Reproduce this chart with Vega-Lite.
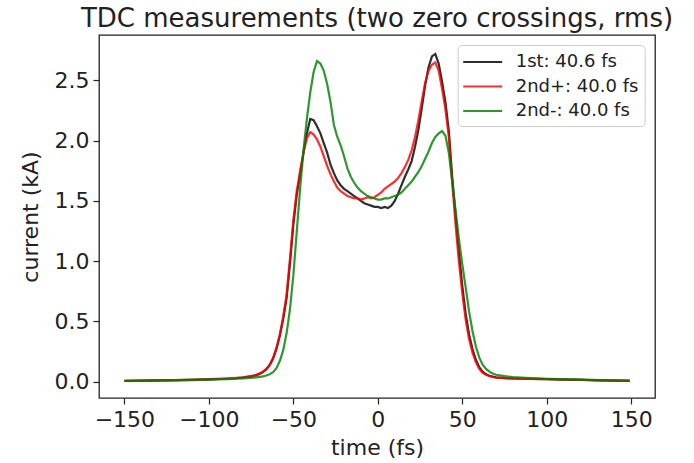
{
  "$schema": "https://vega.github.io/schema/vega-lite/v6.json",
  "autosize": "none",
  "width": 556,
  "height": 363,
  "padding": {"left": 99, "top": 35, "right": 39, "bottom": 65},
  "background": "white",
  "config": {
    "font": "DejaVu Sans",
    "view": {"stroke": "#222222", "strokeWidth": 1.3},
    "axis": {"grid": false, "domain": false, "tickColor": "#222222", "tickSize": 6, "tickWidth": 1.2, "labelColor": "#222222", "labelFont": "DejaVu Sans", "labelFontSize": 22, "titleFont": "DejaVu Sans", "titleFontSize": 22, "titleFontWeight": "normal", "titleColor": "#222222", "labelPadding": 4}
  },
  "title": {"text": "TDC measurements (two zero crossings, rms)", "font": "DejaVu Sans", "fontSize": 26, "fontWeight": "normal", "color": "#222222", "anchor": "middle", "frame": "group", "offset": 3},
  "data": {"values": [
    {"t": -150, "k": 0.005, "r": 0.005, "g": 0.004},
    {"t": -140, "k": 0.007, "r": 0.007, "g": 0.006},
    {"t": -130, "k": 0.009, "r": 0.009, "g": 0.008},
    {"t": -120, "k": 0.011, "r": 0.012, "g": 0.010},
    {"t": -110, "k": 0.014, "r": 0.015, "g": 0.012},
    {"t": -100, "k": 0.018, "r": 0.019, "g": 0.015},
    {"t": -90, "k": 0.023, "r": 0.024, "g": 0.019},
    {"t": -85, "k": 0.027, "r": 0.028, "g": 0.022},
    {"t": -80, "k": 0.033, "r": 0.034, "g": 0.026},
    {"t": -75, "k": 0.042, "r": 0.044, "g": 0.030},
    {"t": -72, "k": 0.052, "r": 0.055, "g": 0.034},
    {"t": -70, "k": 0.062, "r": 0.066, "g": 0.038},
    {"t": -68, "k": 0.078, "r": 0.082, "g": 0.043},
    {"t": -66, "k": 0.10, "r": 0.105, "g": 0.050},
    {"t": -64, "k": 0.135, "r": 0.14, "g": 0.060},
    {"t": -62, "k": 0.19, "r": 0.195, "g": 0.078},
    {"t": -60, "k": 0.27, "r": 0.28, "g": 0.11},
    {"t": -58, "k": 0.38, "r": 0.39, "g": 0.17},
    {"t": -56, "k": 0.52, "r": 0.54, "g": 0.26},
    {"t": -54, "k": 0.69, "r": 0.72, "g": 0.40},
    {"t": -52, "k": 0.98, "r": 1.02, "g": 0.60},
    {"t": -50, "k": 1.30, "r": 1.34, "g": 0.88},
    {"t": -48, "k": 1.55, "r": 1.58, "g": 1.24},
    {"t": -46, "k": 1.72, "r": 1.75, "g": 1.60},
    {"t": -44, "k": 1.90, "r": 1.90, "g": 1.92},
    {"t": -42, "k": 2.06, "r": 2.02, "g": 2.18},
    {"t": -40, "k": 2.18, "r": 2.07, "g": 2.40},
    {"t": -38, "k": 2.17, "r": 2.05, "g": 2.57},
    {"t": -36, "k": 2.12, "r": 2.01, "g": 2.66},
    {"t": -34, "k": 2.06, "r": 1.95, "g": 2.64},
    {"t": -32, "k": 1.98, "r": 1.87, "g": 2.58},
    {"t": -30, "k": 1.90, "r": 1.79, "g": 2.47},
    {"t": -28, "k": 1.80, "r": 1.72, "g": 2.32},
    {"t": -26, "k": 1.73, "r": 1.66, "g": 2.13},
    {"t": -24, "k": 1.67, "r": 1.61, "g": 2.03},
    {"t": -22, "k": 1.63, "r": 1.58, "g": 1.96},
    {"t": -20, "k": 1.60, "r": 1.56, "g": 1.87},
    {"t": -18, "k": 1.58, "r": 1.54, "g": 1.77},
    {"t": -16, "k": 1.56, "r": 1.53, "g": 1.70},
    {"t": -14, "k": 1.54, "r": 1.52, "g": 1.65},
    {"t": -12, "k": 1.52, "r": 1.52, "g": 1.61},
    {"t": -10, "k": 1.50, "r": 1.51, "g": 1.58},
    {"t": -8, "k": 1.48, "r": 1.52, "g": 1.56},
    {"t": -6, "k": 1.47, "r": 1.53, "g": 1.54},
    {"t": -4, "k": 1.46, "r": 1.52, "g": 1.53},
    {"t": -2, "k": 1.45, "r": 1.53, "g": 1.52},
    {"t": 0, "k": 1.45, "r": 1.55, "g": 1.51},
    {"t": 2, "k": 1.44, "r": 1.57, "g": 1.51},
    {"t": 4, "k": 1.45, "r": 1.60, "g": 1.52},
    {"t": 6, "k": 1.44, "r": 1.62, "g": 1.52},
    {"t": 8, "k": 1.46, "r": 1.64, "g": 1.53},
    {"t": 10, "k": 1.50, "r": 1.66, "g": 1.54},
    {"t": 12, "k": 1.56, "r": 1.69, "g": 1.55},
    {"t": 14, "k": 1.63, "r": 1.73, "g": 1.57},
    {"t": 16, "k": 1.70, "r": 1.78, "g": 1.60},
    {"t": 18, "k": 1.76, "r": 1.84, "g": 1.63},
    {"t": 20, "k": 1.83, "r": 1.92, "g": 1.66},
    {"t": 22, "k": 1.95, "r": 2.03, "g": 1.70},
    {"t": 24, "k": 2.09, "r": 2.17, "g": 1.74},
    {"t": 26, "k": 2.27, "r": 2.33, "g": 1.79},
    {"t": 28, "k": 2.46, "r": 2.48, "g": 1.85},
    {"t": 30, "k": 2.61, "r": 2.58, "g": 1.91},
    {"t": 32, "k": 2.70, "r": 2.63, "g": 1.98},
    {"t": 34, "k": 2.72, "r": 2.65, "g": 2.03},
    {"t": 36, "k": 2.64, "r": 2.58, "g": 2.06},
    {"t": 38, "k": 2.49, "r": 2.43, "g": 2.08},
    {"t": 40, "k": 2.32, "r": 2.26, "g": 2.04},
    {"t": 42, "k": 2.08, "r": 2.03, "g": 1.90},
    {"t": 44, "k": 1.70, "r": 1.65, "g": 1.66},
    {"t": 46, "k": 1.38, "r": 1.30, "g": 1.42},
    {"t": 48, "k": 1.07, "r": 0.99, "g": 1.18},
    {"t": 50, "k": 0.79, "r": 0.73, "g": 0.97},
    {"t": 52, "k": 0.56, "r": 0.51, "g": 0.78},
    {"t": 54, "k": 0.39, "r": 0.35, "g": 0.58},
    {"t": 56, "k": 0.27, "r": 0.24, "g": 0.42},
    {"t": 58, "k": 0.18, "r": 0.16, "g": 0.29},
    {"t": 60, "k": 0.12, "r": 0.105, "g": 0.20},
    {"t": 62, "k": 0.082, "r": 0.072, "g": 0.14},
    {"t": 64, "k": 0.06, "r": 0.055, "g": 0.105},
    {"t": 66, "k": 0.048, "r": 0.044, "g": 0.082},
    {"t": 68, "k": 0.04, "r": 0.037, "g": 0.066},
    {"t": 70, "k": 0.034, "r": 0.032, "g": 0.056},
    {"t": 75, "k": 0.028, "r": 0.027, "g": 0.045},
    {"t": 80, "k": 0.025, "r": 0.024, "g": 0.036},
    {"t": 90, "k": 0.021, "r": 0.021, "g": 0.028},
    {"t": 100, "k": 0.019, "r": 0.019, "g": 0.023},
    {"t": 110, "k": 0.016, "r": 0.016, "g": 0.019},
    {"t": 120, "k": 0.013, "r": 0.013, "g": 0.015},
    {"t": 130, "k": 0.010, "r": 0.011, "g": 0.012},
    {"t": 140, "k": 0.008, "r": 0.008, "g": 0.009},
    {"t": 149, "k": 0.006, "r": 0.006, "g": 0.007}
  ]},
  "transform": [{"fold": ["k", "r", "g"], "as": ["series", "current"]}],
  "mark": {"type": "line", "strokeWidth": 2.2, "opacity": 0.82, "clip": true},
  "encoding": {
    "x": {"field": "t", "type": "quantitative", "scale": {"domain": [-165, 164], "nice": false, "zero": false}, "axis": {"values": [-150, -100, -50, 0, 50, 100, 150], "title": "time (fs)", "titlePadding": 7, "labelPadding": 5}},
    "y": {"field": "current", "type": "quantitative", "scale": {"domain": [-0.137, 2.877], "nice": false, "zero": false}, "axis": {"values": [0, 0.5, 1, 1.5, 2, 2.5], "format": ".1f", "title": "current (kA)", "titlePadding": 12}},
    "color": {"field": "series", "type": "nominal", "sort": ["k", "r", "g"], "scale": {"domain": ["k", "r", "g"], "range": ["#000000", "#ff0000", "#008000"]}, "legend": {"title": null, "orient": "none", "legendX": 358.7, "legendY": 10, "labelExpr": "datum.label == 'k' ? '1st: 40.6 fs' : (datum.label == 'r' ? '2nd+: 40.0 fs' : '2nd-: 40.0 fs')", "symbolType": "M-2,0H2", "symbolSize": 380, "symbolOffset": 8, "symbolStrokeWidth": 2.2, "symbolOpacity": 0.82, "labelFont": "DejaVu Sans", "labelFontSize": 18, "labelColor": "#222222", "labelOffset": 22, "padding": 6, "rowPadding": 4.5, "fillColor": "white", "strokeColor": "#cccccc", "cornerRadius": 4}}
  }
}
